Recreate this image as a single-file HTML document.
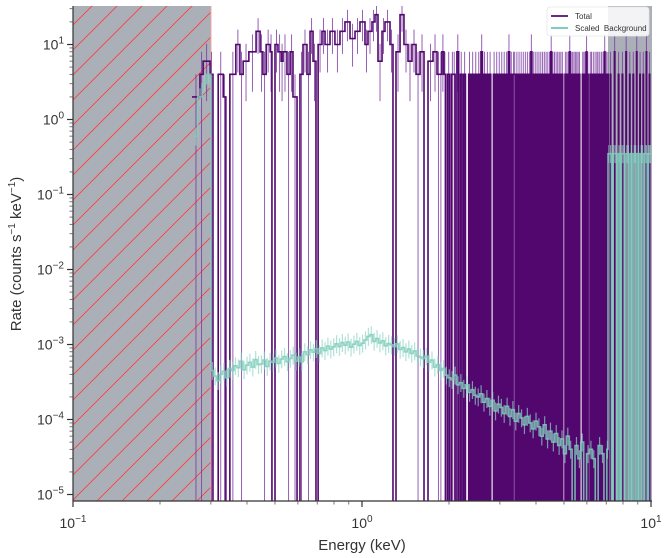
<!DOCTYPE html>
<html><head><meta charset="utf-8"><style>
html,body{margin:0;padding:0;background:#fff;}
svg{display:block;font-family:"Liberation Sans","DejaVu Sans",sans-serif;}
</style></head><body>
<svg id="chart" width="666" height="558" viewBox="0 0 666 558" xmlns="http://www.w3.org/2000/svg">
<defs>
<pattern id="hatch" patternUnits="userSpaceOnUse" width="25" height="25" patternTransform="translate(73,0)">
<line x1="0" y1="25" x2="25" y2="0" stroke="#ff3b3b" stroke-width="0.8"/>
<line x1="-5" y1="5" x2="5" y2="-5" stroke="#ff3b3b" stroke-width="0.8"/>
<line x1="20" y1="30" x2="30" y2="20" stroke="#ff3b3b" stroke-width="0.8"/>
</pattern>
<clipPath id="plotclip"><rect x="73" y="6" width="579" height="495"/></clipPath>
</defs>
<g id="regions"></g>
<g id="marks" clip-path="url(#plotclip)"></g>
<g id="axes"></g>
<text x="362" y="550" text-anchor="middle" font-size="15" fill="#333">Energy (keV)</text>
<text transform="translate(21,254) rotate(-90)" text-anchor="middle" font-size="15" fill="#333">Rate (counts s<tspan dy="-6" font-size="10">−1</tspan><tspan dy="6"> keV</tspan><tspan dy="-6" font-size="10">−1</tspan><tspan dy="6">)</tspan></text>
<g>
<rect x="547" y="7" width="102" height="29" rx="3" fill="#fff" fill-opacity="0.85" stroke="#e6e6e6" stroke-width="0.8"/>
<g>
<line x1="551" y1="16" x2="568" y2="16" stroke="#6a2a8c" stroke-width="2"/>
<text x="575" y="19" font-size="8" fill="#333">Total</text></g>
<g>
<line x1="551" y1="28" x2="568" y2="28" stroke="#7fcdbb" stroke-width="2"/>
<text x="575" y="31" font-size="8" fill="#333" xml:space="preserve">Scaled  Background</text></g>
</g>
</svg>
<script>
// ---- data ----
const lowE = [0.258,0.275,0.282,0.298,0.305,0.318,0.331,0.338,0.349,0.366,0.378,0.388,0.406,0.430,0.444,0.454,0.466,0.481,0.488,0.500,0.512,0.525,0.533,0.550,0.564,0.577,0.596,0.610,0.625,0.645,0.661,0.677,0.693,0.705,0.727,0.745,0.775,0.806,0.839,0.873,0.909,0.946,0.984,1.024,1.049,1.083,1.109,1.136,1.173,1.201,1.250,1.280,1.311,1.354,1.397,1.443,1.489,1.538,1.588,1.639,1.692,1.761,1.818];
const lowRate = [2,4,6,4,0,4,2,0,4,10,4,6,8,15,8,4,10,8,0,10,8,6,8,4,8,2,0,4,10,4,15,6,0,10,15,10,15,10,15,20,12,15,20,10,15,20,25,6,15,20,10,0,8,25,10,6,10,4,8,0,6,8,4];
const hiE0 = 1.86, hiBin = 0.03;
const hiRate = [4,8,4,0,4,0,4,4,0,8,0,4,0,4,0,0,4,0,4,0,
4,0,4,0,8,0,4,0,4,0,4,0,0,4,0,4,0,4,0,4,
0,4,0,4,0,8,0,4,0,4,4,0,4,0,4,0,4,0,4,0,
4,0,4,0,4,0,8,0,4,0,4,0,4,0,4,0,4,0,4,0,
4,0,4,0,4,0,4,0,8,0,4,0,4,0,4,0,4,0,4,0,
4,0,4,0,0,0,4,0,4,0,4,0,8,0,4,0,4,0,4,0,
4,0,4,0,4,0,4,0,0,0,0,4,0,4,0,4,0,8,0,4,
0,0,0,4,0,4,0,0,4,0,0,4,0,0,4,0,4,0,0,4,
0,0,4,0,0,4,0,0,8,0,0,4,0,0,4,
0,0,0,0,4,0,0,0, 0,0,0,0,8,0,0,0, 0,0,0,0,4,0,0,0, 0,0,0,0,4,0,0,0,
0,0,0,0,8,0,0,0, 0,0,0,0,4,0,0,0, 0,0,0,0,4,0,0,0, 0,0,0,0,8,0,0,0,
0,0,0,0,4,0,0,0, 0,0,0,0,4,0,0,0, 0,0,0,0,8,0,0,0, 0,0,0,0,4,0,0,0, 0];
const bgLowE = [0.262,0.270,0.280,0.290];
const bgLowRate = [0.6,2,3,4];
const bgLogE0 = Math.log10(0.3), bgLogStep = 0.01;
const bgRate1e4 = [4.5,3.8,3.3,4.0,4.4,3.6,4.8,4.5,
5.2,4.9,6.0,4.6,5.3,5.8,5.0,6.3,5.4,
5.5,6.2,5.1,6.0,5.8,6.6,5.6,6.4,6.9,5.9,6.5,7.2,6.0,6.8,5.9,
8.0,7.3,8.5,7.9,8.8,7.6,9.0,8.3,9.5,8.7,9.3,
10.2,9.4,10.6,9.8,10.8,9.2,10.1,11.0,9.7,10.4,
11.5,12.8,13.5,11.0,
12.0,10.5,11.2,9.6,10.3,9.9,
9.4,10.2,8.6,9.1,8.0,8.7,7.6,8.2,7.0,6.8,
6.5,7.0,5.8,6.2,5.0,5.4,4.5,4.8,3.9,3.6,
3.4,3.9,2.9,3.1,2.6,2.9,2.3,2.5,2.1,2.0,
2.2,1.7,1.9,1.5,1.8,1.3,1.6,1.45,
1.2,1.5,1.1,1.35,0.95,1.2,1.05,0.85,1.1,0.9,0.75,0.95,
0.8,0.6,0.85,0.55,0.7,0.5,0.65,0.45,
0.55,0.35,0.6,0.4,0,0.45,0.3,0.5,0,0.35,
0.4,0.3,0,0.45,0.35,0,0.4];
const bgHiE0 = 7.1, bgHiBin = 0.1;
const bgHiRate = [0.35,0.35,0,0.35,0.35,0,0.35,0,0.35,0.35,0,0.35,0.35,0,0.35,0,0.35,0.35,0,0.35,0,0.35,0.35,0,0.35,0.35,0,0.35,0.35];
const xTicks = [0.1,1,10], xTickLabels = ["−1","0","1"];
const yTicks = [1e-5,1e-4,1e-3,1e-2,1e-1,1,10], yTickLabels = ["−5","−4","−3","−2","−1","0","1"];
const ignoreLow = [0.1,0.3], ignoreHigh = [7.1,10.5];

// ---- scales ----
const X0=73,X1=652,Y0=6,Y1=501;
function xs(e){return 73+289*(Math.log10(e)+1);}
function ys(v){return v<=0?520:44.5+75*(1-Math.log10(v));}
const NS="http://www.w3.org/2000/svg";
function mk(tag,attrs,parent){const el=document.createElementNS(NS,tag);for(const k in attrs)el.setAttribute(k,attrs[k]);parent.appendChild(el);return el;}

// ---- regions ----
const reg=document.getElementById('regions');
const r1=mk('rect',{x:X0,y:Y0,width:xs(ignoreLow[1])-X0,height:Y1-Y0,fill:'#abb0b8'},reg);


const r1h=mk('rect',{x:X0,y:Y0,width:xs(ignoreLow[1])-X0,height:Y1-Y0,fill:'url(#hatch)'},reg);


const r1e=mk('line',{x1:xs(ignoreLow[1]),y1:Y0,x2:xs(ignoreLow[1]),y2:Y1,stroke:'#e8a0a0','stroke-width':1},reg);


const r2=mk('rect',{x:xs(ignoreHigh[0]),y:Y0,width:X1-xs(ignoreHigh[0]),height:Y1-Y0,fill:'#abb0b8'},reg);



const marks=document.getElementById('marks');
// ---- total series ----
const bins=[];
for(let i=0;i<lowE.length;i++){bins.push([lowE[i], i+1<lowE.length?lowE[i+1]:hiE0, lowRate[i]]);}
for(let k=0;k<hiRate.length;k++){bins.push([hiE0+k*hiBin, hiE0+(k+1)*hiBin, hiRate[k]]);}
let d='';
bins.forEach((b,i)=>{const x0=xs(b[0]),x1=xs(b[1]),y=ys(b[2]);d+=(i===0?'M':'L')+x0.toFixed(2)+','+y.toFixed(2)+'L'+x1.toFixed(2)+','+y.toFixed(2);});
let ed='';
bins.forEach(b=>{if(b[2]>0){const n=Math.max(1,Math.round(b[2]/4));const xc=xs(Math.sqrt(b[0]*b[1]));const up=b[2]*(1+1/Math.sqrt(n)),lo=b[2]*(1-1/Math.sqrt(n));ed+='M'+xc.toFixed(2)+','+ys(lo).toFixed(2)+'L'+xc.toFixed(2)+','+ys(up).toFixed(2);}});
const te=mk('path',{d:ed,stroke:'#7b3aa0','stroke-opacity':0.8,'stroke-width':1,fill:'none'},marks);


const tl=mk('path',{d:d,stroke:'#52076e','stroke-width':1.6,fill:'none'},marks);



// ---- background series ----
const bb=[];
for(let i=0;i<bgLowE.length;i++){bb.push([bgLowE[i], i+1<bgLowE.length?bgLowE[i+1]:Math.pow(10,bgLogE0), bgLowRate[i]]);}
for(let j=0;j<bgRate1e4.length;j++){bb.push([Math.pow(10,bgLogE0+j*bgLogStep), j+1<bgRate1e4.length?Math.pow(10,bgLogE0+(j+1)*bgLogStep):bgHiE0, bgRate1e4[j]*1e-4]);}
for(let k=0;k<bgHiRate.length;k++){bb.push([bgHiE0+k*bgHiBin, bgHiE0+(k+1)*bgHiBin, bgHiRate[k]]);}
let bd='',be='';
bb.forEach((b,i)=>{const x0=xs(b[0]),x1=xs(b[1]),y=ys(b[2]);bd+=(i===0?'M':'L')+x0.toFixed(2)+','+y.toFixed(2)+'L'+x1.toFixed(2)+','+y.toFixed(2);
 if(b[2]>0){const xc=xs(Math.sqrt(b[0]*b[1]));be+='M'+xc.toFixed(2)+','+ys(b[2]*0.75).toFixed(2)+'L'+xc.toFixed(2)+','+ys(b[2]*1.3).toFixed(2);}});
const bge=mk('path',{d:be,stroke:'#8fd6c5','stroke-opacity':0.7,'stroke-width':1.2,fill:'none'},marks);


const bgl=mk('path',{d:bd,stroke:'#7fcdbb','stroke-opacity':0.85,'stroke-width':1.6,fill:'none'},marks);



// ---- axes ----
const ax=document.getElementById('axes');
const ls=mk('line',{x1:X0,y1:Y0,x2:X0,y2:Y1,stroke:'#333','stroke-width':1.2},ax);


const bs=mk('line',{x1:X0,y1:Y1,x2:X1,y2:Y1,stroke:'#333','stroke-width':1.2},ax);


xTicks.forEach((t,i)=>{const x=xs(t);
 const tk=mk('line',{x1:x,y1:Y1,x2:x,y2:Y1+6,stroke:'#333','stroke-width':1.2},ax);
 
 
 const tx=mk('text',{x:x,y:528,'text-anchor':'middle','font-size':14,fill:'#333'},ax);
 
 
 tx.innerHTML='10<tspan dy="-6" font-size="10">'+xTickLabels[i]+'</tspan>';
 if(i<xTicks.length-1){for(let m=2;m<=9;m++){const xm=xs(t*m);const mt=mk('line',{x1:xm,y1:Y1,x2:xm,y2:Y1+3.5,stroke:'#555','stroke-width':0.8},ax);
  
  }}
});
yTicks.forEach((t,i)=>{const y=ys(t);
 const tk=mk('line',{x1:X0-6,y1:y,x2:X0,y2:y,stroke:'#333','stroke-width':1.2},ax);
 
 
 const tx=mk('text',{x:X0-9,y:y+5,'text-anchor':'end','font-size':14,fill:'#333'},ax);
 
 
 tx.innerHTML='10<tspan dy="-6" font-size="10">'+yTickLabels[i]+'</tspan>';
 for(let m=2;m<=9;m++){const ym=ys(t*m);if(ym<Y0)continue;const mt=mk('line',{x1:X0-3.5,y1:ym,x2:X0,y2:ym,stroke:'#555','stroke-width':0.8},ax);
  
  }
});
</script>
</body></html>
